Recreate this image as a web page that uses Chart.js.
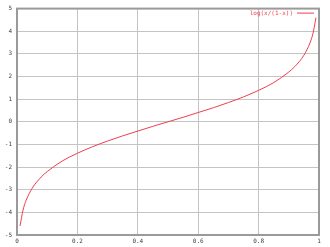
<!DOCTYPE html>
<html>
<head>
<meta charset="utf-8">
<script src="https://cdn.jsdelivr.net/npm/chart.js@4/dist/chart.umd.min.js"></script>
<style>
  html, body { margin: 0; padding: 0; background: #fff; }
  #wrap { width: 330px; height: 247px; }
</style>
</head>
<body>
<div id="wrap"><canvas id="myChart"></canvas></div>
<script>
// values
var xs = [0.01, 0.02, 0.03, 0.05, 0.08, 0.1, 0.15, 0.2, 0.25, 0.3, 0.35, 0.4, 0.45, 0.5,
          0.55, 0.6, 0.65, 0.7, 0.75, 0.8, 0.85, 0.9, 0.92, 0.95, 0.97, 0.98, 0.99];
var ys = [-4.6, -3.9, -3.48, -2.94, -2.44, -2.2, -1.73, -1.39, -1.1, -0.85, -0.62, -0.41, -0.2, 0,
          0.2, 0.41, 0.62, 0.85, 1.1, 1.39, 1.73, 2.2, 2.44, 2.94, 3.48, 3.9, 4.6];
var xTicks = [0, 0.2, 0.4, 0.6, 0.8, 1];
var yTicks = [-5, -4, -3, -2, -1, 0, 1, 2, 3, 4, 5];
var seriesName = 'log(x/(1-x))';

var points = [];
for (var i = 0; i < xs.length; i++) {
    points.push({ x: xs[i], y: ys[i] });
}

var lineColor = '#f03c50';
var tickFont = { family: 'DejaVu Sans Mono', size: 6 };

// gnuplot style frame + legend in the top right corner
var framePlugin = {
    id: 'frame',
    afterDraw: function (chart) {
        var ctx = chart.ctx;
        var a = chart.chartArea;
        ctx.save();
        ctx.strokeStyle = '#9a9a9a';
        ctx.lineWidth = 2;
        ctx.strokeRect(a.left, a.top, a.right - a.left, a.bottom - a.top);

        ctx.font = '6px "DejaVu Sans Mono"';
        ctx.fillStyle = lineColor;
        ctx.textAlign = 'right';
        ctx.textBaseline = 'middle';
        ctx.fillText(seriesName, a.right - 26, a.top + 5);
        ctx.strokeStyle = lineColor;
        ctx.lineWidth = 1;
        ctx.beginPath();
        ctx.moveTo(a.right - 22, a.top + 4.5);
        ctx.lineTo(a.right - 5, a.top + 4.5);
        ctx.stroke();
        ctx.restore();
    }
};

var myChart = document.getElementById('myChart').getContext('2d');
var myChart = new Chart(myChart, {
    type: 'line',
    data: {
        datasets: [{
            label: seriesName,
            data: points,
            borderColor: lineColor,
            borderWidth: 1,
            pointRadius: 0,
            cubicInterpolationMode: 'monotone',
            fill: false
        }]
    },
    options: {
        responsive: true,
        maintainAspectRatio: false,
        animation: false,
        layout: { padding: { top: 6, right: 11, left: 0, bottom: 0 } },
        plugins: {
            legend: { display: false },
            tooltip: { enabled: false }
        },
        scales: {
            x: {
                type: 'linear',
                min: 0,
                max: 1,
                afterBuildTicks: function (scale) {
                    scale.ticks = xTicks.map(function (v) { return { value: v }; });
                },
                afterFit: function (scale) { scale.height = 12; },
                grid: { color: '#c4c4c4', lineWidth: 1, drawTicks: false },
                border: { display: false },
                ticks: {
                    font: tickFont,
                    color: '#404040',
                    padding: 3,
                    maxRotation: 0,
                    autoSkip: false,
                    callback: function (v) { return String(v); }
                }
            },
            y: {
                type: 'linear',
                min: -5,
                max: 5,
                afterBuildTicks: function (scale) {
                    scale.ticks = yTicks.map(function (v) { return { value: v }; });
                },
                afterFit: function (scale) { scale.width = 17; },
                grid: { color: '#c4c4c4', lineWidth: 1, drawTicks: false },
                border: { display: false },
                ticks: {
                    font: tickFont,
                    color: '#404040',
                    padding: 5,
                    autoSkip: false,
                    callback: function (v) { return String(v); }
                }
            }
        }
    },
    plugins: [framePlugin]
});
</script>
</body>
</html>
